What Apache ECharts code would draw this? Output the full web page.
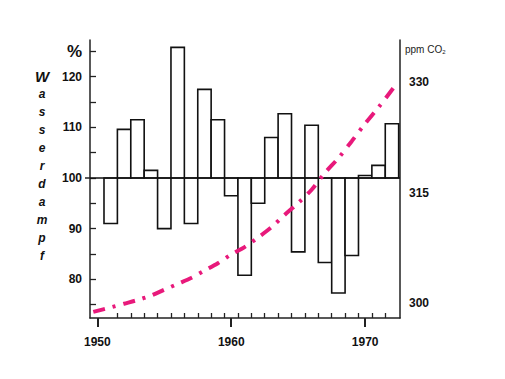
<!DOCTYPE html>
<html><head><meta charset="utf-8">
<script src="https://cdn.jsdelivr.net/npm/echarts@6/dist/echarts.min.js"></script>
<style>html,body{margin:0;padding:0;background:#fff}#c{width:505px;height:379px}</style>
</head><body><div id="c"></div>
<script>
// Water vapour anomaly (% of mean), one bar per year
const years = [1951,1952,1953,1954,1955,1956,1957,1958,1959,1960,1961,1962,1963,1964,1965,1966,1967,1968,1969,1970,1971,1972];
const vapour = [91,109.6,111.5,101.5,90,125.8,91,117.5,111.5,96.5,80.8,95,108,112.7,85.4,110.4,83.3,77.3,84.7,100.5,102.5,110.7];
// CO2 curve (ppm)
const co2Years = [1949.7,1951,1952,1953,1954,1955,1956,1957,1958,1959,1960,1961,1962,1963,1964,1965,1966,1967,1968,1969,1970,1971,1972.1];
const co2 = [298.8,299.4,299.9,300.4,301.0,301.8,302.6,303.4,304.4,305.4,306.6,307.6,308.9,310.3,312.0,313.6,315.4,317.7,319.7,322.0,324.4,326.6,329.2];
// Tick labels
const xLabelYears = [1950,1960,1970];
const xMinorTicks = [1951.5,1952.5,1953.5,1954.5,1955.5,1956.5,1957.5,1958.5,1959.5,1960.5,1961.5,1962.5,1963.5,1964.5,1965.5,1966.5,1967.5,1968.5,1969.5,1970.5,1971.5];
const leftTicks = [75,80,85,90,95,100,105,110,115,120,125];
const leftLabels = [80,90,100,110,120,125];
const rightLabels = [300,315,330];
const vLetters = ['W','a','s','s','e','r','d','a','m','p','f'];

const FONT = "'Liberation Sans', Arial, sans-serif";
const AX = '#222';
const XMIN = 1949.455, XMAX = 1972.6;

const chart = echarts.init(document.getElementById('c'), null, {renderer: 'svg'});
chart.setOption({
  animation: false,
  backgroundColor: '#fff',
  grid: {left: 90, right: 105, top: 40, bottom: 61},
  xAxis: [
    {type: 'value', min: XMIN, max: XMAX, position: 'bottom',
     axisLine: {show: true, lineStyle: {color: AX, width: 1.5}},
     axisTick: {show: true, inside: true, length: 5, customValues: xMinorTicks, lineStyle: {color: AX, width: 1.3}},
     axisLabel: {show: true, customValues: xLabelYears, margin: 18, color: '#111', fontFamily: FONT, fontWeight: 'bold', fontSize: 12,
       formatter: v => String(v)},
     splitLine: {show: false}},
    {type: 'value', min: XMIN, max: XMAX, position: 'bottom',
     axisLine: {show: false},
     axisTick: {show: true, inside: false, length: 9, customValues: xLabelYears, lineStyle: {color: AX, width: 2}},
     axisLabel: {show: false}, splitLine: {show: false}}
  ],
  yAxis: [
    {type: 'value', min: 72.35, max: 127.25, position: 'left',
     axisLine: {show: true, lineStyle: {color: AX, width: 1.5}},
     axisTick: {show: true, inside: true, length: 6, customValues: leftTicks, lineStyle: {color: AX, width: 1.3}},
     axisLabel: {show: true, customValues: leftLabels, margin: 8, color: '#111', fontFamily: FONT, fontWeight: 'bold', fontSize: 12,
       formatter: v => v === 125 ? '{p|%}' : String(v),
       rich: {p: {fontSize: 17, fontWeight: 'bold', fontFamily: FONT, color: '#111'}}},
     splitLine: {show: false},
     name: vLetters.map((c, i) => i === 0 ? '{w|' + c + '}' : '{l|' + c + '}').join('\n'),
     nameLocation: 'middle', nameGap: 48, nameRotate: 0,
     nameTextStyle: {align: 'center', verticalAlign: 'middle', padding: [0, 0, 26, 0],
       rich: {
         w: {fontSize: 15, fontStyle: 'italic', fontWeight: 'bold', fontFamily: FONT, color: '#111', lineHeight: 18, align: 'center'},
         l: {fontSize: 12, fontStyle: 'italic', fontWeight: 'bold', fontFamily: FONT, color: '#111', lineHeight: 18, align: 'center'}
       }}},
    {type: 'value', min: 297.96, max: 335.75, position: 'right',
     axisLine: {show: true, lineStyle: {color: AX, width: 1.5}},
     axisTick: {show: false},
     axisLabel: {show: true, customValues: rightLabels, margin: 9, color: '#111', fontFamily: FONT, fontWeight: 'bold', fontSize: 12},
     splitLine: {show: false},
     name: 'ppm CO{s|2}', nameLocation: 'end', nameGap: -3,
     nameTextStyle: {align: 'left', verticalAlign: 'top', padding: [0, 0, 0, 5], fontFamily: FONT, fontSize: 10, color: '#222',
       rich: {s: {fontSize: 6, fontFamily: FONT, color: '#222', verticalAlign: 'bottom', padding: [6, 0, 0, 0]}}}},
    {type: 'value', min: 72.35, max: 127.25, position: 'left',
     axisLine: {show: false},
     axisTick: {show: true, inside: false, length: 5, customValues: [100], lineStyle: {color: AX, width: 1.5}},
     axisLabel: {show: false}, splitLine: {show: false}}
  ],
  series: [
    {type: 'custom', xAxisIndex: 0, yAxisIndex: 0, z: 2,
     data: years.map((y, i) => [y, vapour[i]]),
     renderItem: (params, api) => {
       const x = api.value(0), v = api.value(1);
       const p1 = api.coord([x - 0.5, Math.max(v, 100)]);
       const p2 = api.coord([x + 0.5, Math.min(v, 100)]);
       return {type: 'rect', shape: {x: p1[0], y: p1[1], width: p2[0] - p1[0], height: p2[1] - p1[1]},
               style: {fill: '#fff', stroke: '#111', lineWidth: 1.6}};
     },
     markLine: {silent: true, symbol: 'none', label: {show: false},
       lineStyle: {color: '#111', width: 1.6, type: 'solid'}, data: [{yAxis: 100}]}},
    {type: 'line', xAxisIndex: 0, yAxisIndex: 1, z: 5,
     data: co2Years.map((y, i) => [y, co2[i]]),
     smooth: 0.3, showSymbol: false, symbol: 'none',
     lineStyle: {color: '#e8197b', width: 4, type: [12, 8, 3, 8], cap: 'butt'}}
  ]
});
</script></body></html>
